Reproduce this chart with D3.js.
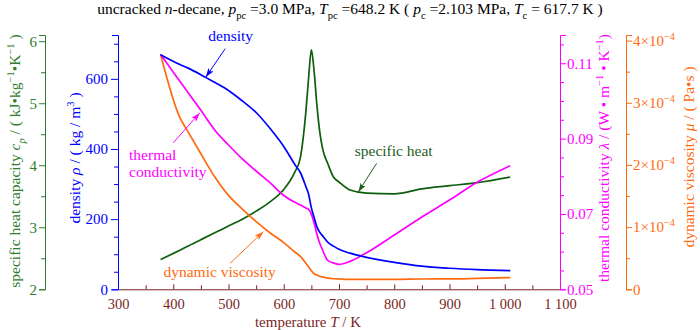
<!DOCTYPE html>
<html>
<head>
<meta charset="utf-8">
<script src="https://cdn.jsdelivr.net/npm/d3@7"></script>
<style>
  body { margin: 0; background: #fff; }
  svg { display: block; font-family: "Liberation Serif", "Times New Roman", serif; }
</style>
</head>
<body>
<div id="chart"></div>
<script>
// data
const temperature = [377, 412, 425, 450, 475, 500, 525, 550, 575, 600, 620, 630, 640, 645, 650, 655, 660, 665, 670, 680, 690, 700, 720, 750, 800, 850, 900, 950, 1010];
const density = [669, 641, 632, 612, 590, 567, 537, 504, 459, 407, 356, 333, 293, 271, 232, 205, 178, 163, 153, 134, 123, 114, 103, 91, 77, 66, 60, 56, 53];
const specificHeat = [2.48, 2.63, 2.69, 2.80, 2.91, 3.02, 3.13, 3.26, 3.41, 3.61, 3.89, 4.12, 4.86, 5.41, 5.86, 5.51, 4.97, 4.55, 4.28, 4.02, 3.81, 3.73, 3.60, 3.55, 3.54, 3.62, 3.67, 3.72, 3.81];
const conductivity = [0.1124, 0.1052, 0.1026, 0.0975, 0.0923, 0.0883, 0.0846, 0.0814, 0.0783, 0.0749, 0.0731, 0.0724, 0.0716, 0.0712, 0.0699, 0.0676, 0.0646, 0.0623, 0.0605, 0.0576, 0.0570, 0.0566, 0.0574, 0.0597, 0.0644, 0.0692, 0.0737, 0.0784, 0.0828];
const viscosity = [3.78e-4, 2.76e-4, 2.56e-4, 2.18e-4, 1.81e-4, 1.51e-4, 1.29e-4, 1.09e-4, 0.91e-4, 0.75e-4, 0.60e-4, 0.53e-4, 0.42e-4, 0.36e-4, 0.30e-4, 0.25e-4, 0.23e-4, 0.21e-4, 0.20e-4, 0.18e-4, 0.17e-4, 0.166e-4, 0.16e-4, 0.16e-4, 0.16e-4, 0.166e-4, 0.167e-4, 0.175e-4, 0.187e-4];

const xTicks = [300, 400, 500, 600, 700, 800, 900, 1000, 1100];
const cpTicks = [2, 3, 4, 5, 6];
const rhoTicks = [0, 200, 400, 600];
const lamTicks = [0.05, 0.07, 0.09, 0.11];
const muTicks = [0, 1e-4, 2e-4, 3e-4, 4e-4];

// colours
const brown = "#7a1f1f";
const green = "#2f7d2f";
const darkGreen = "#0d5e0d";
const blue = "#0000ff";
const magenta = "#ff00ff";
const orange = "#ff6a10";

const W = 700, H = 330;
const plotBottom = 289.3, plotTop = 35;

const svg = d3.select("#chart").append("svg")
    .attr("width", W)
    .attr("height", H);

const x = d3.scaleLinear().domain([300, 1100]).range([118, 560]);
const yCp = d3.scaleLinear().domain([2, 6.1]).range([plotBottom, plotTop]);
const yRho = d3.scaleLinear().domain([0, 725]).range([plotBottom, plotTop]);
const yLam = d3.scaleLinear().domain([0.05, 0.1175]).range([plotBottom, plotTop]);
const yMu = d3.scaleLinear().domain([0, 4.09e-4]).range([plotBottom, plotTop]);

// writes text made of parts: plain, italic, sup, sub
function rich(text, parts, size) {
    let shift = 0;
    parts.forEach(p => {
        let target = p.sup ? -size * 0.42 : p.sub ? size * 0.3 : 0;
        let ts = text.append("tspan").text(p.t);
        if (target !== shift) ts.attr("dy", target - shift);
        shift = target;
        if (p.i) ts.attr("font-style", "italic");
        if (p.sup || p.sub) ts.attr("font-size", size * 0.68);
    });
}

function styleAxis(g, color, size) {
    g.attr("font-family", null).attr("font-size", size);
    g.selectAll("path, line").attr("stroke", color).attr("stroke-width", 1);
    g.selectAll("text").attr("fill", color);
}

function minor(ticks, step, lo, hi) {
    let out = [];
    for (let v = lo; v <= hi + 1e-9; v += step) {
        let r = Math.round(v * 1e6) / 1e6;
        if (!ticks.some(t => Math.abs(t - r) < 1e-9)) out.push(r);
    }
    return out;
}

// short unlabelled ticks between the labelled ones
function minorTicks(g, axis, values) {
    g.append("g").attr("class", "minor")
        .call(axis.tickValues(values).tickSize(4).tickFormat(() => ""))
        .select(".domain").remove();
}

// x axis
const fmtSpace = d3.formatLocale({decimal: ".", thousands: " ", grouping: [3], currency: ["", ""]}).format(",");
const gx = svg.append("g").attr("transform", `translate(0,${plotBottom})`);
gx.call(d3.axisBottom(x).tickValues(xTicks).tickSize(-5).tickSizeOuter(0).tickPadding(9).tickFormat(fmtSpace));
gx.append("g").call(d3.axisBottom(x).tickValues(minor(xTicks, 50, 300, 1100)).tickSize(-4).tickFormat(() => ""))
    .select(".domain").remove();
styleAxis(gx, brown, 14.5);

// specific heat axis
const gCp = svg.append("g").attr("transform", "translate(45,0)");
gCp.call(d3.axisLeft(yCp).tickValues(cpTicks).tickSize(6).tickSizeOuter(6).tickPadding(2).tickFormat(d3.format("d")));
minorTicks(gCp, d3.axisLeft(yCp), minor(cpTicks, 0.5, 2, 6));
styleAxis(gCp, green, 15);

// density axis
const gRho = svg.append("g").attr("transform", "translate(118,0)");
gRho.call(d3.axisLeft(yRho).tickValues(rhoTicks).tickSize(7).tickSizeOuter(6).tickPadding(3).tickFormat(d3.format("d")));
minorTicks(gRho, d3.axisLeft(yRho), minor(rhoTicks, 50, 0, 700));
styleAxis(gRho, blue, 15);

// thermal conductivity axis
const gLam = svg.append("g").attr("transform", "translate(560,0)");
gLam.call(d3.axisRight(yLam).tickValues(lamTicks).tickSize(6).tickSizeOuter(6).tickPadding(1).tickFormat(d3.format(".2f")));
minorTicks(gLam, d3.axisRight(yLam), minor(lamTicks, 0.005, 0.05, 0.115));
styleAxis(gLam, magenta, 15);

// viscosity axis
const gMu = svg.append("g").attr("transform", "translate(626,0)");
gMu.call(d3.axisRight(yMu).tickValues(muTicks).tickSize(6).tickSizeOuter(6).tickPadding(1).tickFormat(() => ""));
gMu.selectAll(".tick text").each(function(d) {
    let t = d3.select(this);
    let n = Math.round(d * 1e4);
    if (n === 0) t.text("0");
    else rich(t, [{t: n + "×10"}, {t: "−4", sup: true}], 15);
});
minorTicks(gMu, d3.axisRight(yMu), minor(muTicks, 0.5e-4, 0, 4e-4));
styleAxis(gMu, orange, 15);

// axis titles
function title(tx, ty, rot, color, parts, size) {
    let t = svg.append("text")
        .attr("transform", `translate(${tx},${ty}) rotate(${rot})`)
        .attr("text-anchor", "middle")
        .attr("fill", color)
        .attr("font-size", size);
    rich(t, parts, size);
}

title(350, 14, 0, "#000", [
    {t: "uncracked "}, {t: "n", i: true}, {t: "-decane, "},
    {t: "p", i: true}, {t: "pc", sub: true}, {t: " =3.0 MPa, "},
    {t: "T", i: true}, {t: "pc", sub: true}, {t: " =648.2 K ( "},
    {t: "p", i: true}, {t: "c", sub: true}, {t: " =2.103 MPa, "},
    {t: "T", i: true}, {t: "c", sub: true}, {t: " = 617.7 K )"}
], 15.5);
title(308, 327, 0, brown, [{t: "temperature "}, {t: "T", i: true}, {t: " / K"}], 15);
title(20, 161, -90, green, [
    {t: "specific heat capacity "}, {t: "c", i: true}, {t: "p", i: true, sub: true},
    {t: " / ( kJ•kg"}, {t: "−1", sup: true}, {t: "•K"}, {t: "−1", sup: true}, {t: " )"}
], 15.5);
title(80, 158, -90, blue, [
    {t: "density "}, {t: "ρ", i: true}, {t: " / ( kg / m"}, {t: "3", sup: true}, {t: " )"}
], 15.5);
title(609, 158, -90, magenta, [
    {t: "thermal conductivity "}, {t: "λ", i: true}, {t: " / (W • m"}, {t: "−1", sup: true},
    {t: " • K"}, {t: "−1", sup: true}, {t: ")"}
], 15.5);
title(694, 157, -90, orange, [
    {t: "dynamic viscosity "}, {t: "μ", i: true}, {t: " / ( Pa•s )"}
], 15.5);

// curves
const series = [
    {values: specificHeat, y: yCp, color: darkGreen},
    {values: viscosity, y: yMu, color: orange},
    {values: conductivity, y: yLam, color: magenta},
    {values: density, y: yRho, color: blue}
];

series.forEach(s => {
    let line = d3.line()
        .x((d, i) => x(temperature[i]))
        .y(d => s.y(d))
        .curve(d3.curveMonotoneX);
    svg.append("path")
        .datum(s.values)
        .attr("d", line)
        .attr("fill", "none")
        .attr("stroke", s.color)
        .attr("stroke-width", 1.7);
});

// annotations, placed in data units of each curve
const notes = [
    {lines: ["density"], y: yRho, color: blue, anchor: "middle", text: [504, 709], from: [494, 686], to: [459, 605]},
    {lines: ["thermal", "conductivity"], y: yLam, color: magenta, anchor: "start", text: [320, 0.0843], from: [400, 0.0889], to: [448, 0.0968]},
    {lines: ["specific heat"], y: yCp, color: "#1e5f1e", anchor: "middle", text: [799, 4.15], from: [768, 4.03], to: [735, 3.57]},
    {lines: ["dynamic viscosity"], y: yMu, color: orange, anchor: "middle", text: [484, 0.203e-4], from: [503, 0.418e-4], to: [563, 0.927e-4]}
];

const defs = svg.append("defs");
notes.forEach((n, k) => {
    defs.append("marker")
        .attr("id", "head" + k)
        .attr("markerUnits", "userSpaceOnUse")
        .attr("markerWidth", 10).attr("markerHeight", 7)
        .attr("refX", 9).attr("refY", 3)
        .attr("orient", "auto")
        .append("path")
        .attr("d", "M0,0L9,3L0,6L2,3Z")
        .attr("fill", n.color);

    svg.append("line")
        .attr("x1", x(n.from[0])).attr("y1", n.y(n.from[1]))
        .attr("x2", x(n.to[0])).attr("y2", n.y(n.to[1]))
        .attr("stroke", n.color)
        .attr("stroke-width", 1)
        .attr("marker-end", `url(#head${k})`);

    let t = svg.append("text")
        .attr("x", x(n.text[0]))
        .attr("y", n.y(n.text[1]))
        .attr("text-anchor", n.anchor)
        .attr("fill", n.color)
        .attr("font-size", 15.5);
    n.lines.forEach((l, i) => {
        t.append("tspan").attr("x", x(n.text[0])).attr("dy", i ? 17 : 0).text(l);
    });
});
</script>
</body>
</html>
